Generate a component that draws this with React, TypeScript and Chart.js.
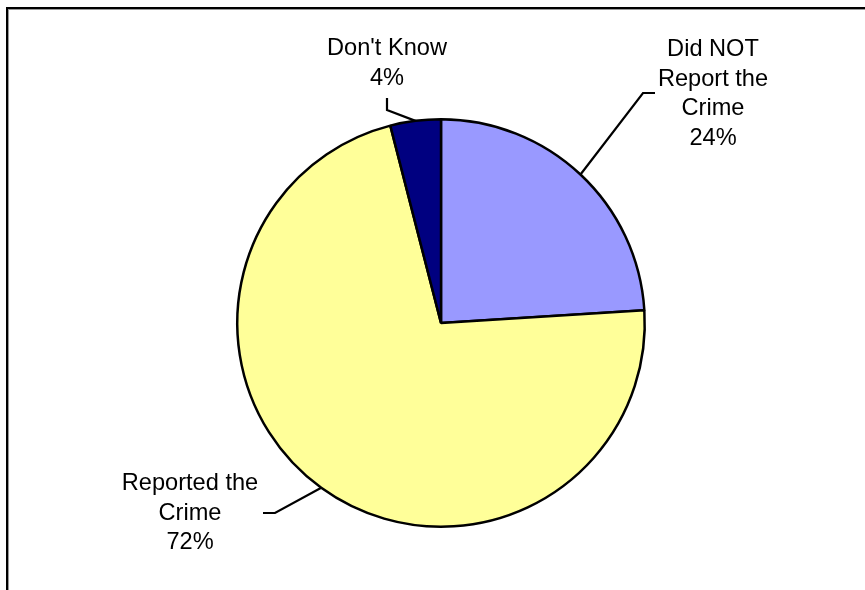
import React, { useEffect, useRef } from "react";
import { Chart, registerables } from "chart.js";

Chart.register(...registerables);

const categories = ["Did NOT\nReport the\nCrime", "Reported the\nCrime", "Don't Know"];
const values = [24, 72, 4];
const colors = ["#9999FF", "#FFFF99", "#000080"];

// label layout, offsets relative to the pie centre (px)
const labelLayout = [
  { elbow: [202, -230], end: [214, -230], text: [272, -230] },
  { elbow: [-166, 190], end: [-178, 190], text: [-251, 189] },
  { elbow: [-54, -213], end: [-54, -225], text: [-54, -260.5] },
];

const FONT_SIZE = 23.6;
const LINE_H = 29.8;

const labelPlugin = {
  id: "pieLabels",
  afterDatasetsDraw(chart: any) {
    const ctx = chart.ctx as CanvasRenderingContext2D;
    const meta = chart.getDatasetMeta(0);
    const total = values.reduce((a, b) => a + b, 0);
    ctx.save();
    meta.data.forEach((arc: any, i: number) => {
      const { x, y, outerRadius, startAngle, endAngle } = arc.getProps(
        ["x", "y", "outerRadius", "startAngle", "endAngle"],
        true
      );
      const mid = (startAngle + endAngle) / 2;
      const ex = x + Math.cos(mid) * outerRadius;
      const ey = y + Math.sin(mid) * outerRadius;
      const L = labelLayout[i];
      ctx.strokeStyle = "#000";
      ctx.lineWidth = 2.2;
      ctx.beginPath();
      ctx.moveTo(ex, ey);
      ctx.lineTo(x + L.elbow[0], y + L.elbow[1]);
      ctx.lineTo(x + L.end[0], y + L.end[1]);
      ctx.stroke();

      const lines = categories[i].split("\n");
      lines.push(Math.round((values[i] / total) * 100) + "%");
      ctx.fillStyle = "#000";
      ctx.font = `${FONT_SIZE}px "Liberation Sans", Arial, sans-serif`;
      ctx.textAlign = "center";
      ctx.textBaseline = "middle";
      const cx = x + L.text[0];
      const cy = y + L.text[1];
      const top = cy - ((lines.length - 1) * LINE_H) / 2;
      lines.forEach((t, k) => ctx.fillText(t, cx, top + k * LINE_H + 1));
    });
    ctx.restore();
  },
};

export default function App() {
  const ref = useRef<HTMLCanvasElement | null>(null);
  useEffect(() => {
    document.body.style.margin = "0";
    const chart = new Chart(ref.current!, {
      type: "pie",
      data: {
        labels: categories,
        datasets: [
          {
            data: values,
            backgroundColor: colors,
            borderColor: "#000",
            borderWidth: 2.5,
          },
        ],
      },
      options: {
        animation: false,
        responsive: false,
        layout: { padding: { top: 118, bottom: 62, left: 236, right: 219 } },
        plugins: { legend: { display: false }, tooltip: { enabled: false } },
      },
      plugins: [labelPlugin],
    });
    return () => chart.destroy();
  }, []);
  return (
    <div style={{ position: "relative", width: 865, height: 590, overflow: "hidden", background: "#fff" }}>
      <div
        style={{
          position: "absolute",
          left: 6,
          top: 7,
          width: 900,
          height: 700,
          borderTop: "2px solid #000",
          borderLeft: "2px solid #000",
          boxShadow: "inset 1px 1px 0 #999",
        }}
      />
      <canvas ref={ref} width={865} height={590} style={{ position: "absolute", left: 0, top: 0 }} />
    </div>
  );
}
